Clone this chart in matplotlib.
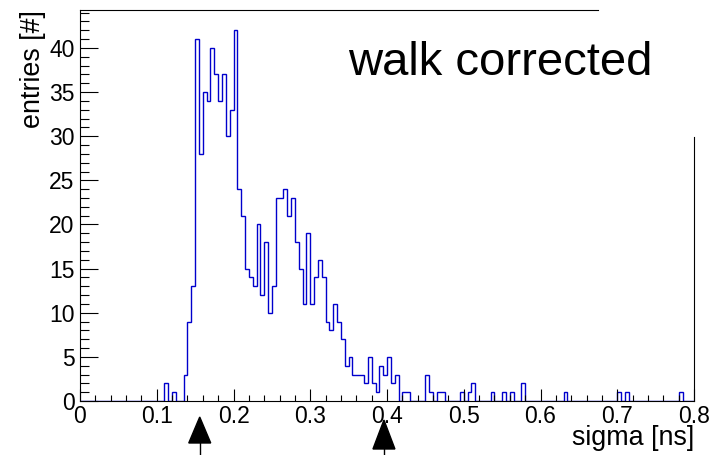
import matplotlib
matplotlib.use("Agg")
import matplotlib.pyplot as plt
import matplotlib.transforms as mtransforms
from matplotlib.patches import Polygon
from matplotlib.ticker import MultipleLocator
import numpy as np

plt.rcParams['font.family'] = ['Liberation Sans', 'DejaVu Sans']

# histogram: 160 bins of 0.005 ns from 0 to 0.8
bin_lo = 0.0
bin_hi = 0.8
n_bins = 160
counts = [
    0, 0, 0, 0, 0, 0, 0, 0, 0, 0, 0, 0, 0, 0, 0, 0, 0, 0, 0, 0,
    0, 0, 2, 0, 1, 0, 0, 3, 9, 13, 41, 28, 35, 34, 40, 37, 34, 37, 30, 33,
    42, 24, 21, 15, 14, 13, 20, 12, 18, 10, 13, 23, 23, 24, 21, 23, 18, 15, 11, 19,
    11, 14, 16, 14, 9, 8, 11, 9, 7, 4, 5, 3, 3, 3, 2, 5, 2, 1, 4, 3,
    5, 2, 3, 0, 1, 1, 0, 0, 0, 0, 3, 1, 0, 1, 1, 0, 0, 0, 0, 1,
    0, 1, 2, 0, 0, 0, 0, 1, 0, 0, 1, 0, 1, 0, 0, 2, 0, 0, 0, 0,
    0, 0, 0, 0, 0, 0, 1, 0, 0, 0, 0, 0, 0, 0, 0, 0, 0, 0, 0, 0,
    1, 0, 1, 0, 0, 0, 0, 0, 0, 0, 0, 0, 0, 0, 0, 0, 1, 0, 0, 0,
]
# cut markers (arrows under the axis)
cut_positions = [0.156, 0.396]
arrow_tips = [0.0835, 0.0769]   # figure fraction
arrow_bases = [0.0264, 0.0132]

edges = np.linspace(bin_lo, bin_hi, n_bins + 1)

fig = plt.figure(figsize=(7.13, 4.55), dpi=100)
ax = fig.add_axes([0.1122, 0.1187, 0.8612, 0.8593])

ax.stairs(counts, edges, color='#0000cc', linewidth=1.0, baseline=0)

ax.set_xlim(0, 0.8)
ax.set_ylim(0, 44.3)

ax.xaxis.set_major_locator(MultipleLocator(0.1))
ax.xaxis.set_minor_locator(MultipleLocator(0.02))
ax.yaxis.set_major_locator(MultipleLocator(5))
ax.yaxis.set_minor_locator(MultipleLocator(1))
ax.xaxis.set_major_formatter(plt.FuncFormatter(lambda v, p: f"{v:g}"))

ax.tick_params(axis='x', which='major', direction='in', length=8.4, width=0.8,
               labelsize=16.5, pad=3)
ax.tick_params(axis='x', which='minor', direction='in', length=4.2, width=0.8)
ax.tick_params(axis='y', which='major', direction='in', length=13.2, width=0.8,
               labelsize=16.5, pad=4)
ax.tick_params(axis='y', which='minor', direction='in', length=6.6, width=0.8)

# ROOT frame: top and right edges only partly visible
ax.spines['top'].set_visible(False)
ax.spines['right'].set_visible(False)
for s in ['left', 'bottom']:
    ax.spines[s].set_linewidth(0.8)
ax.plot([0, 0.8436], [1, 1], transform=ax.transAxes, color='black',
        lw=0.8, clip_on=False)
ax.plot([1, 1], [0, 0.675], transform=ax.transAxes, color='black',
        lw=0.8, clip_on=False)

ax.set_xlabel('sigma [ns]', fontsize=19.4, loc='right', labelpad=-2)
ax.set_ylabel('entries [#]', fontsize=19.4, loc='top', labelpad=2)

fig.text(0.488, 0.836, 'walk corrected', fontsize=34, ha='left', va='baseline')

# arrows marking the cut window
trans = mtransforms.blended_transform_factory(ax.transData, fig.transFigure)
hw = 0.0143
for x, tip, base in zip(cut_positions, arrow_tips, arrow_bases):
    tri = Polygon([(x - hw, base), (x, tip), (x + hw, base)], closed=True,
                  transform=trans, color='black', clip_on=False)
    ax.add_patch(tri)
    ax.plot([x, x], [base, 0], transform=trans, color='black', lw=1,
            clip_on=False)

fig.savefig('out.png', dpi=100)
